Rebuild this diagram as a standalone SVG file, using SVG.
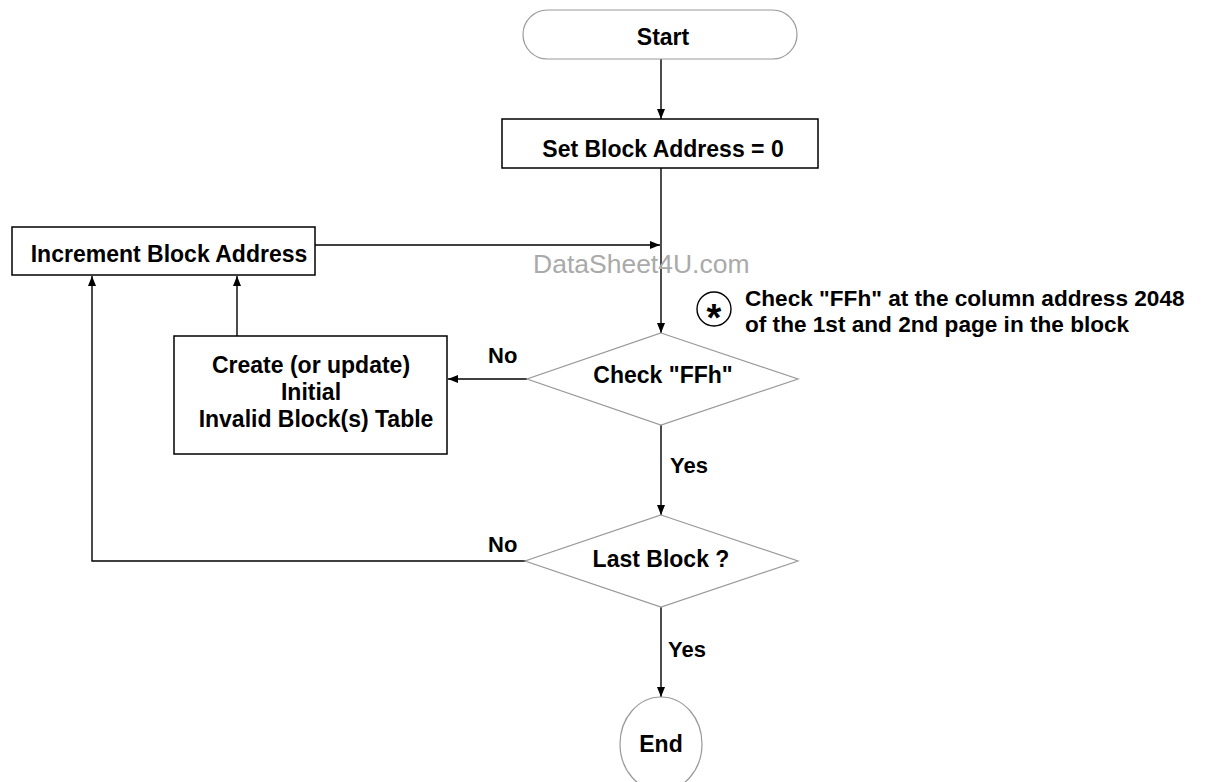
<svg xmlns="http://www.w3.org/2000/svg" width="1212" height="782" viewBox="0 0 1212 782">
<defs>
<marker id="arr" markerWidth="10" markerHeight="8" refX="10" refY="4" orient="auto" markerUnits="userSpaceOnUse">
<path d="M0,0 L10,4 L0,8 Z" fill="#000"/>
</marker>
<style>
.t{font-family:"Liberation Sans",Arial,sans-serif;font-weight:bold;font-size:23px;fill:#000;text-anchor:middle}
.n{font-family:"Liberation Sans",Arial,sans-serif;font-weight:bold;font-size:22.6px;fill:#000}
.lbl{font-family:"Liberation Sans",Arial,sans-serif;font-weight:bold;font-size:22px;fill:#000}
.box{fill:#fff;stroke:#000;stroke-width:1.5}
.shape{fill:#fff;stroke:#999;stroke-width:1.2}
.c{fill:none;stroke:#000;stroke-width:1.4}
.wm{font-family:"Liberation Sans",Arial,sans-serif;font-size:26.5px;fill:#aaa}
</style>
</defs>
<rect width="1212" height="782" fill="#fff"/>
<g id="connectors">
<line class="c" x1="661" y1="59" x2="661" y2="119" marker-end="url(#arr)"/>
<line class="c" x1="661" y1="168" x2="661" y2="333" marker-end="url(#arr)"/>
<line class="c" x1="315" y1="245" x2="660" y2="245" marker-end="url(#arr)"/>
<line class="c" x1="527" y1="379" x2="448" y2="379" marker-end="url(#arr)"/>
<line class="c" x1="237" y1="336" x2="237" y2="276" marker-end="url(#arr)"/>
<line class="c" x1="661" y1="425" x2="661" y2="515" marker-end="url(#arr)"/>
<polyline class="c" points="526,561 92,561 92,276" marker-end="url(#arr)"/>
<line class="c" x1="661" y1="607" x2="661" y2="697" marker-end="url(#arr)"/>
</g>
<g id="start">
<rect class="shape" x="523" y="10" width="274" height="49" rx="24.5" ry="24.5"/>
<text class="t" x="663" y="45">Start</text>
</g>
<g id="set-block">
<rect class="box" x="502" y="119" width="316" height="49"/>
<text class="t" x="663" y="157">Set Block Address = 0</text>
</g>
<g id="increment">
<rect class="box" x="12" y="227" width="303" height="48"/>
<text class="t" x="169" y="262">Increment Block Address</text>
</g>
<g id="check-ffh">
<polygon class="shape" points="661,333 798,379 661,425 527,379"/>
<text class="t" x="663" y="383">Check "FFh"</text>
</g>
<g id="create-table">
<rect class="box" x="174" y="336" width="273" height="118"/>
<text class="t" x="311" y="373">Create (or update)</text>
<text class="t" x="311" y="400">Initial</text>
<text class="t" x="316" y="427">Invalid Block(s) Table</text>
</g>
<g id="last-block">
<polygon class="shape" points="661,515 798,561 661,607 525,561"/>
<text class="t" x="661" y="567">Last Block ?</text>
</g>
<g id="end">
<ellipse class="shape" cx="661" cy="744" rx="41" ry="47"/>
<text class="t" x="661" y="752">End</text>
</g>
<g id="labels">
<text class="lbl" x="488" y="363">No</text>
<text class="lbl" x="670" y="473">Yes</text>
<text class="lbl" x="488" y="552">No</text>
<text class="lbl" x="668" y="657">Yes</text>
</g>
<g id="note">
<circle cx="714" cy="309" r="17" fill="#fff" stroke="#000" stroke-width="1.4"/>
<text x="714" y="331" style="font-family:'Liberation Sans',Arial,sans-serif;font-weight:bold;font-size:38px;text-anchor:middle">*</text>
<text class="n" x="745" y="306">Check "FFh" at the column address 2048</text>
<text class="n" x="745" y="332">of the 1st and 2nd page in the block</text>
</g>
<text class="wm" x="533" y="273">DataSheet4U.com</text>
</svg>
